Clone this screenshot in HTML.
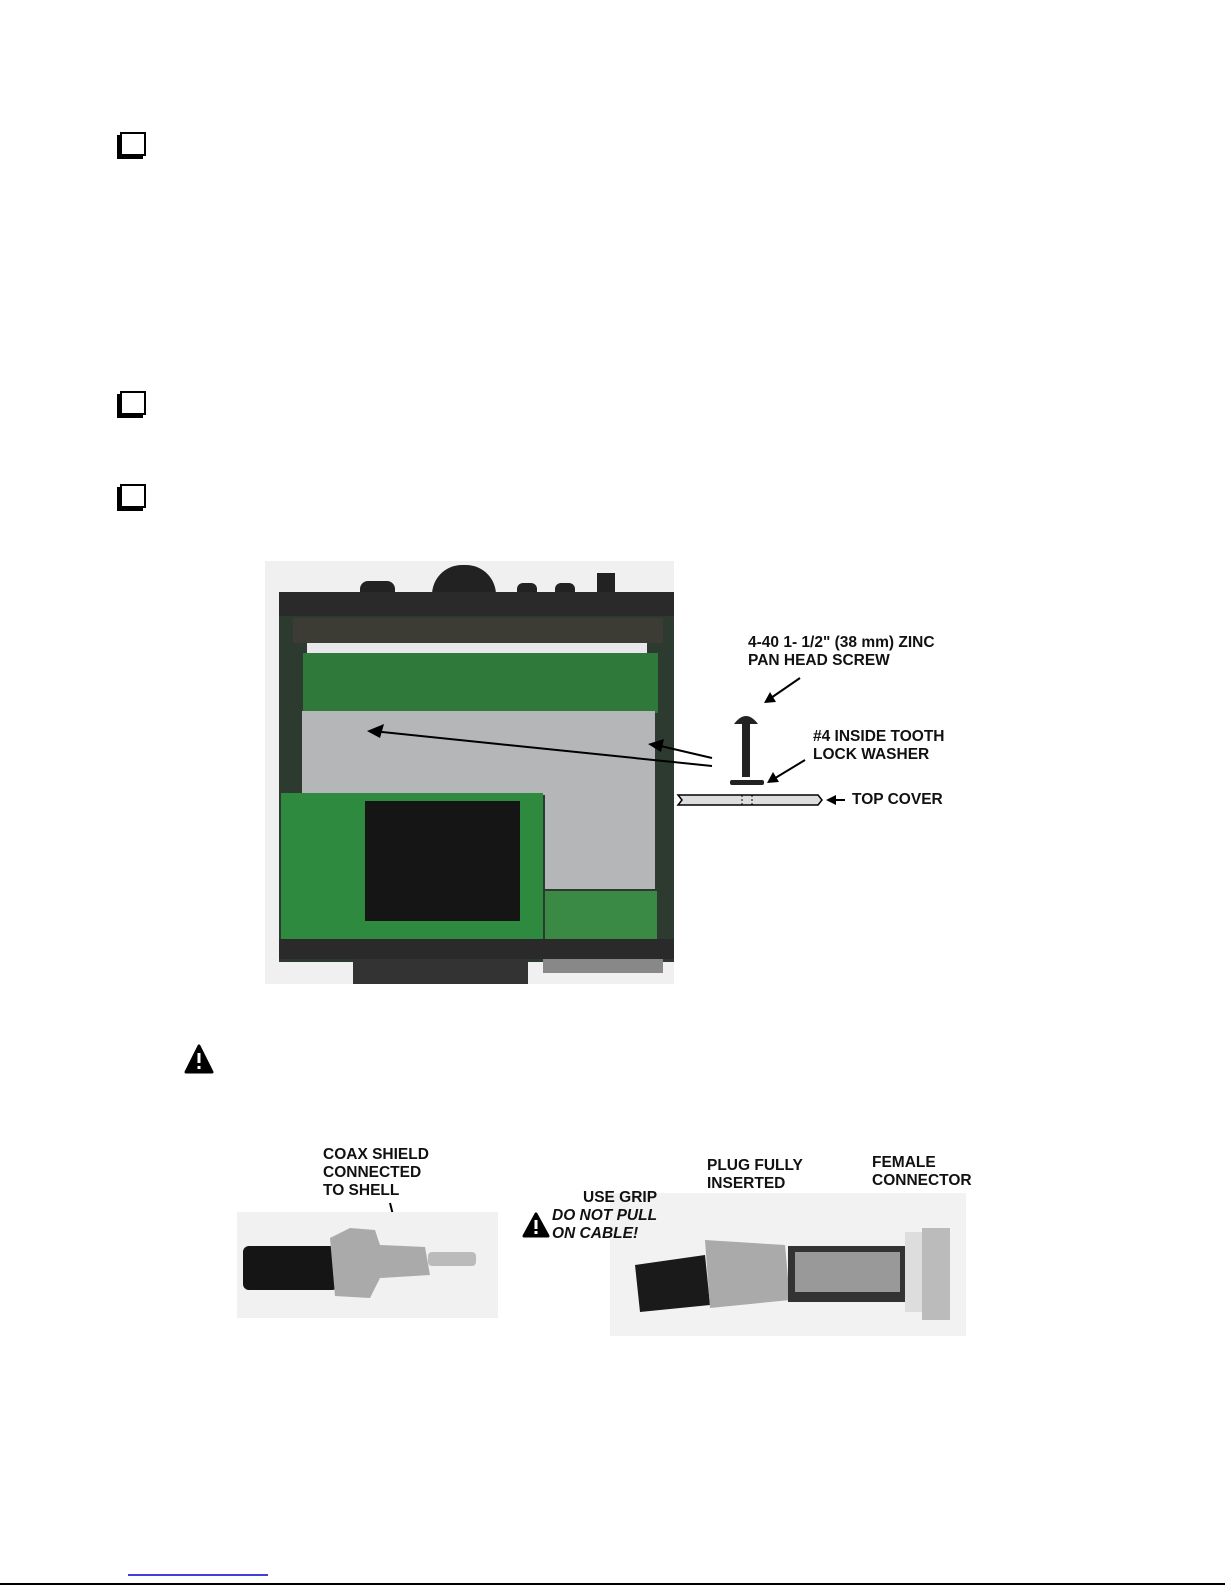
<!DOCTYPE html>
<html><head><meta charset="utf-8"><style>
body{margin:0;width:1225px;height:1585px;background:#fff;position:relative;overflow:hidden;font-family:"Liberation Sans",Arial,sans-serif}
.a{position:absolute}
.cb{position:absolute;width:22px;height:20px;border:2px solid #000;box-shadow:-3px 3px 0 #000;background:#fff}
.lbl{position:absolute;font-weight:bold;font-size:15.5px;line-height:18px;color:#111;white-space:nowrap}
</style></head><body>
<div class="cb" style="left:120px;top:132px"></div>
<div class="cb" style="left:120px;top:391px"></div>
<div class="cb" style="left:120px;top:484px"></div>

<!-- main photo -->
<div class="a" style="left:265px;top:561px;width:409px;height:423px;background:#f0f0f0;overflow:hidden">
 <div class="a" style="left:167px;top:4px;width:64px;height:30px;background:#222;border-radius:30px 30px 0 0"></div>
 <div class="a" style="left:95px;top:20px;width:35px;height:14px;background:#222;border-radius:8px 8px 0 0"></div>
 <div class="a" style="left:252px;top:22px;width:20px;height:12px;background:#222;border-radius:6px 6px 0 0"></div>
 <div class="a" style="left:290px;top:22px;width:20px;height:12px;background:#222;border-radius:6px 6px 0 0"></div>
 <div class="a" style="left:332px;top:12px;width:18px;height:22px;background:#222"></div>
 <div class="a" style="left:14px;top:31px;width:395px;height:370px;background:#2d3a30"></div>
 <div class="a" style="left:14px;top:31px;width:395px;height:24px;background:#2a2a2a"></div>
 <div class="a" style="left:28px;top:57px;width:370px;height:25px;background:#3c3c34"></div>
 <div class="a" style="left:42px;top:82px;width:340px;height:10px;background:#e8e8ec"></div>
 <div class="a" style="left:38px;top:92px;width:355px;height:60px;background:#2f7a3a"></div>
 <div class="a" style="left:37px;top:150px;width:353px;height:84px;background:#b4b6b8"></div>
 <div class="a" style="left:280px;top:232px;width:110px;height:96px;background:#b4b6b8"></div>
 <div class="a" style="left:16px;top:232px;width:262px;height:150px;background:#2e8a3e"></div>
 <div class="a" style="left:100px;top:240px;width:155px;height:120px;background:#151515"></div>
 <div class="a" style="left:280px;top:330px;width:112px;height:50px;background:#3a8a45"></div>
 <div class="a" style="left:14px;top:378px;width:395px;height:20px;background:#2a2a2a"></div>
 <div class="a" style="left:88px;top:398px;width:175px;height:25px;background:#333"></div>
 <div class="a" style="left:278px;top:398px;width:120px;height:14px;background:#888"></div>
</div>

<svg class="a" style="left:0;top:0" width="1225" height="1585">
 <g stroke="#000" stroke-width="2" fill="none">
  <line x1="712" y1="766" x2="372" y2="731"/>
  <line x1="712" y1="758" x2="652" y2="744"/>
  <line x1="800" y1="678" x2="768" y2="700"/>
  <line x1="805" y1="760" x2="772" y2="780"/>
  <line x1="845" y1="800" x2="828" y2="800"/>
  <line x1="390" y1="1203" x2="398" y2="1235"/>
  <line x1="666" y1="1204" x2="702" y2="1222"/>
  <line x1="766" y1="1208" x2="788" y2="1240"/>
  <line x1="903" y1="1205" x2="868" y2="1232"/>
 </g>
 <g fill="#000">
  <polygon points="367,731 384,724 380,738"/>
  <polygon points="648,744 664,739 661,752"/>
  <polygon points="764,703 770,692 776,702"/>
  <polygon points="767,783 773,772 779,782"/>
  <polygon points="826,800 836,795 836,805"/>
  <polygon points="400,1240 393,1228 403,1228"/>
  <polygon points="706,1224 692,1222 698,1214"/>
  <polygon points="791,1244 780,1236 789,1230"/>
  <polygon points="864,1236 868,1223 875,1230"/>
 </g>
 <!-- screw -->
 <rect x="742" y="722" width="8" height="55" fill="#222"/>
 <path d="M734 724 Q746 708 758 724 Z" fill="#222"/>
 <rect x="730" y="780" width="34" height="5" rx="2" fill="#222"/>
 <!-- top cover -->
 <path d="M678 795 H818 L822 800 L818 805 H678 L682 800 Z" fill="#ddd" stroke="#000" stroke-width="1.5"/>
 <line x1="742" y1="795" x2="742" y2="805" stroke="#000" stroke-dasharray="2,2"/>
 <line x1="752" y1="795" x2="752" y2="805" stroke="#000" stroke-dasharray="2,2"/>
 <!-- warnings -->
 <path d="M199 1046 L212 1072 H186 Z" fill="#000" stroke="#000" stroke-width="3" stroke-linejoin="round"/>
 <rect x="197.5" y="1053" width="3" height="10" fill="#fff"/><rect x="197.5" y="1066" width="3" height="3" fill="#fff"/>
 <path d="M536 1214 L548 1236 H524 Z" fill="#000" stroke="#000" stroke-width="3" stroke-linejoin="round"/>
 <rect x="534.5" y="1220" width="3" height="9" fill="#fff"/><rect x="534.5" y="1231" width="3" height="3" fill="#fff"/>
 <!-- bottom left photo -->
 <rect x="237" y="1212" width="261" height="106" fill="#f1f1f1"/>
 <rect x="243" y="1246" width="95" height="44" rx="6" fill="#151515"/>
 <path d="M330 1238 L350 1228 L375 1230 L380 1245 L425 1247 L430 1275 L380 1278 L370 1298 L335 1296 Z" fill="#aaa"/>
 <rect x="428" y="1252" width="48" height="14" rx="4" fill="#bbb"/>
 <!-- bottom right photo -->
 <rect x="610" y="1193" width="356" height="143" fill="#f2f2f2"/>
 <path d="M635 1265 L705 1255 L710 1305 L640 1312 Z" fill="#1a1a1a"/>
 <path d="M705 1240 L785 1245 L790 1300 L710 1308 Z" fill="#aaa"/>
 <rect x="788" y="1246" width="120" height="56" fill="#333"/>
 <rect x="795" y="1252" width="105" height="40" fill="#999"/>
 <rect x="905" y="1232" width="20" height="80" fill="#ddd"/>
 <rect x="922" y="1228" width="28" height="92" fill="#bbb"/>
 <!-- bottom rule -->
 <line x1="128" y1="1575" x2="268" y2="1575" stroke="#0000cc" stroke-width="1.5"/>
 <line x1="0" y1="1584" x2="1225" y2="1584" stroke="#000" stroke-width="2"/>
</svg>

<div class="lbl" style="left:748px;top:634px">4-40 1- 1/2" (38 mm) ZINC<br>PAN HEAD SCREW</div>
<div class="lbl" style="left:813px;top:728px">#4 INSIDE TOOTH<br>LOCK WASHER</div>
<div class="lbl" style="left:852px;top:791px">TOP COVER</div>
<div class="lbl" style="left:323px;top:1146px">COAX SHIELD<br>CONNECTED<br>TO SHELL</div>
<div class="lbl" style="left:583px;top:1189px">USE GRIP</div>
<div class="lbl" style="left:552px;top:1207px;font-style:italic">DO NOT PULL<br>ON CABLE!</div>
<div class="lbl" style="left:707px;top:1157px">PLUG FULLY<br>INSERTED</div>
<div class="lbl" style="left:872px;top:1154px">FEMALE<br>CONNECTOR</div>
</body></html>
